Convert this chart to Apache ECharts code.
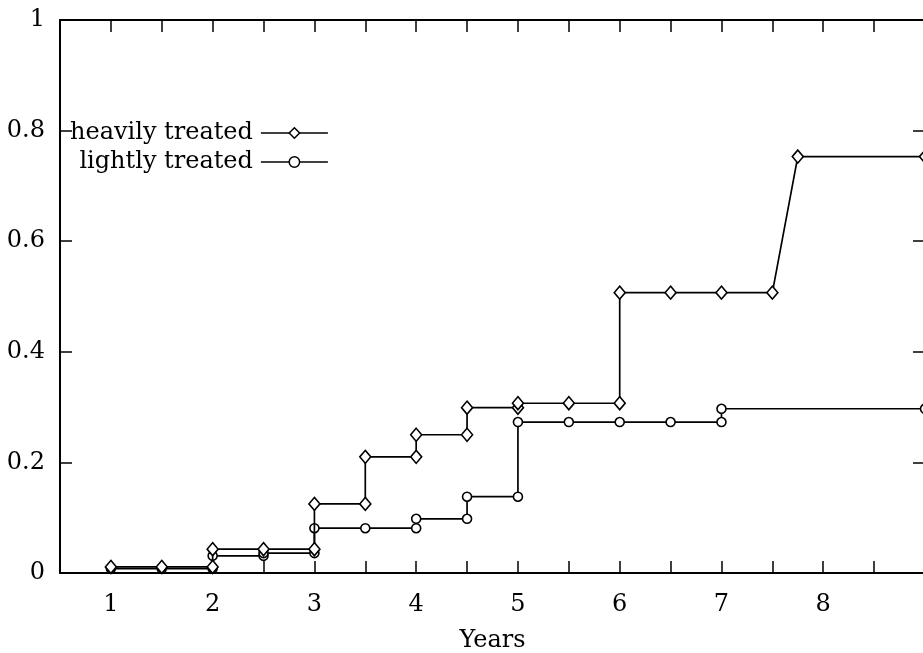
<!DOCTYPE html>
<html>
<head>
<meta charset="utf-8">
<script src="https://cdn.jsdelivr.net/npm/echarts@6/dist/echarts.min.js"></script>
<style>
  html, body { margin: 0; padding: 0; background: #fff; }
  #main { width: 923px; height: 653px; }
</style>
</head>
<body>
<div id="main"></div>
<script>
// heavily treated: 阶梯点（同一 x 出现两次表示跳变）
var heavyX = [1, 1.5, 2, 2, 2.5, 3, 3, 3.5, 3.5, 4, 4, 4.5, 4.5, 5, 5, 5.5, 6, 6, 6.5, 7, 7.5, 7.75, 9];
var heavyY = [0.011, 0.011, 0.011, 0.043, 0.043, 0.043, 0.125, 0.125, 0.21, 0.21, 0.25, 0.25, 0.299, 0.299, 0.307, 0.307, 0.307, 0.507, 0.507, 0.507, 0.507, 0.753, 0.753];

// lightly treated
var lightX = [1, 1.5, 2, 2, 2.5, 2.5, 3, 3, 3.5, 4, 4, 4.5, 4.5, 5, 5, 5.5, 6, 6.5, 7, 7, 9];
var lightY = [0.008, 0.008, 0.008, 0.031, 0.031, 0.036, 0.036, 0.081, 0.081, 0.081, 0.098, 0.098, 0.138, 0.138, 0.273, 0.273, 0.273, 0.273, 0.273, 0.297, 0.297];

// 刻度标签
var xLabels = ['1', '2', '3', '4', '5', '6', '7', '8'];
var yLabels = ['0', '0.2', '0.4', '0.6', '0.8', '1'];

var seriesNames = ['heavily treated', 'lightly treated'];

function pairs(xs, ys) {
  return xs.map(function (x, i) { return [x, ys[i]]; });
}

var font = 'DejaVu Serif';
var fontSize = 24;

// 每根轴单独生成样式对象，避免共享
function axisLine() {
  return { show: true, onZero: false, lineStyle: { color: '#000', width: 2 } };
}
function axisTick() {
  return { show: true, inside: true, length: 12, lineStyle: { color: '#000', width: 1.5 } };
}

var myChart = echarts.init(document.getElementById('main'));

var option = {
  backgroundColor: '#fff',
  animation: false,
  grid: { left: 60, top: 20, width: 865, height: 553, outerBoundsMode: 'none', containLabel: false },
  legend: {
    data: seriesNames,
    orient: 'vertical',
    align: 'right',
    left: 70,
    top: 120,
    padding: 0,
    itemWidth: 67,
    itemHeight: 13,
    itemGap: 3,
    textStyle: { fontFamily: font, fontSize: fontSize, color: '#000', lineHeight: 26, padding: [0, 3, 0, 0] },
    lineStyle: { color: '#000', width: 1.5 },
    itemStyle: { color: '#fff', borderColor: '#000', borderWidth: 1.5 }
  },
  xAxis: [
    {
      type: 'value',
      position: 'bottom',
      min: 0.5,
      max: 9,
      interval: 0.5,
      name: 'Years',
      nameLocation: 'middle',
      nameGap: 56,
      nameTextStyle: { fontFamily: font, fontSize: fontSize, color: '#000' },
      axisLine: axisLine(),
      axisTick: axisTick(),
      splitLine: { show: false },
      axisLabel: {
        margin: 20,
        fontFamily: font,
        fontSize: fontSize,
        color: '#000',
        formatter: function (v) {
          var idx = xLabels.indexOf(String(v));
          return idx >= 0 ? xLabels[idx] : '';
        }
      }
    },
    {
      type: 'value',
      position: 'top',
      min: 0.5,
      max: 9,
      interval: 0.5,
      axisLine: axisLine(),
      axisTick: axisTick(),
      axisLabel: { show: false },
      splitLine: { show: false }
    }
  ],
  yAxis: [
    {
      type: 'value',
      position: 'left',
      min: 0,
      max: 1,
      interval: 0.2,
      axisLine: axisLine(),
      axisTick: axisTick(),
      splitLine: { show: false },
      axisLabel: {
        margin: 15,
        fontFamily: font,
        fontSize: fontSize,
        color: '#000',
        formatter: function (v) {
          return yLabels[Math.round(v / 0.2)];
        }
      }
    },
    {
      type: 'value',
      position: 'right',
      min: 0,
      max: 1,
      interval: 0.2,
      axisLine: axisLine(),
      axisTick: axisTick(),
      axisLabel: { show: false },
      splitLine: { show: false }
    }
  ],
  series: [
    {
      name: seriesNames[0],
      type: 'line',
      xAxisIndex: 0,
      yAxisIndex: 0,
      data: pairs(heavyX, heavyY),
      symbol: 'diamond',
      symbolSize: [11, 13],
      showAllSymbol: true,
      lineStyle: { color: '#000', width: 1.7 },
      itemStyle: { color: '#fff', borderColor: '#000', borderWidth: 1.6 },
      z: 3
    },
    {
      name: seriesNames[1],
      type: 'line',
      xAxisIndex: 0,
      yAxisIndex: 0,
      data: pairs(lightX, lightY),
      symbol: 'circle',
      symbolSize: 9,
      showAllSymbol: true,
      lineStyle: { color: '#000', width: 1.7 },
      itemStyle: { color: '#fff', borderColor: '#000', borderWidth: 1.6 },
      z: 2
    }
  ]
};

myChart.setOption(option);
</script>
</body>
</html>
